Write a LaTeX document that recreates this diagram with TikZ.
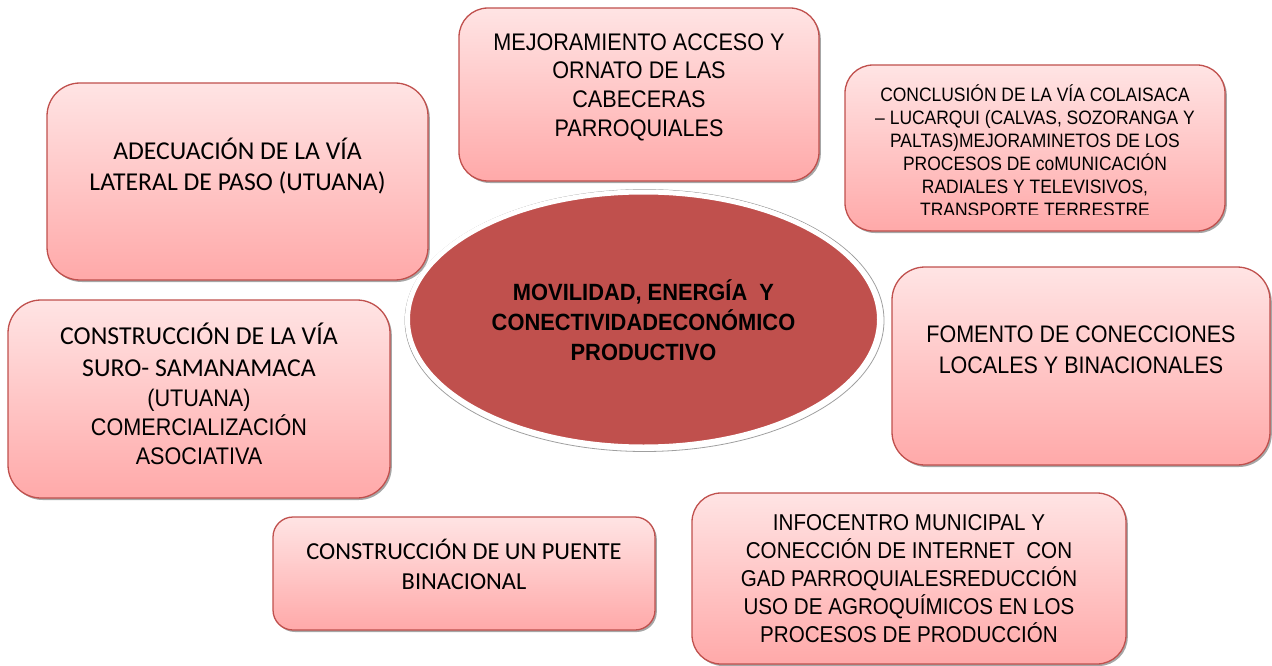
\documentclass[tikz,border=0pt]{standalone}
\usepackage{fontspec}
\setmainfont{Liberation Sans}
\newfontfamily\nar[FakeStretch=0.9]{Liberation Sans}
\newfontfamily\narb[FakeStretch=0.93]{Liberation Sans Bold}
\newfontfamily\calfont{Carlito}
\usetikzlibrary{shapes.geometric,shadows}
\definecolor{boxred}{HTML}{C0504D}
\definecolor{ptop}{HTML}{FFE4E4}
\definecolor{pbot}{HTML}{FFA9A9}
\definecolor{cred}{HTML}{C0504D}
\newcommand{\fr}{\rule{0pt}{30pt}}
\tikzset{
  pinkbox/.style={draw=boxred, line width=1.3pt, top color=ptop, bottom color=pbot,
    inner sep=0pt, drop shadow={shadow xshift=1.8pt, shadow yshift=-2pt, fill=gray!70, opacity=1}},
  txt/.style={anchor=north, inner sep=0pt, align=center, text=black}
}
\begin{document}
\begin{tikzpicture}[x=1pt,y=-1pt]
\useasboundingbox (0,0) rectangle (1272,666);
% boxes
\node[pinkbox, minimum width=360pt, minimum height=173pt, rounded corners=29pt] (b1) at (639,94.5) {};
\node[pinkbox, minimum width=381pt, minimum height=197pt, rounded corners=33pt] (b2) at (237.5,181.5) {};
\node[pinkbox, minimum width=380pt, minimum height=166pt, rounded corners=28pt] (b3) at (1035,148) {};
\node[pinkbox, minimum width=378pt, minimum height=198pt, rounded corners=33pt] (b5) at (1081,366) {};
\node[pinkbox, minimum width=382pt, minimum height=198pt, rounded corners=33pt] (b6) at (199,399) {};
\node[pinkbox, minimum width=382pt, minimum height=113pt, rounded corners=20pt] (b7) at (464,573.5) {};
\node[pinkbox, minimum width=434pt, minimum height=171pt, rounded corners=29pt] (b8) at (909,578.5) {};
% central ellipse
\node[ellipse, draw=gray!75, line width=0.8pt, minimum width=479pt, minimum height=262pt, inner sep=0pt] (esh) at (644.5,320.5) {};
\node[ellipse, fill=cred, draw=white, line width=5pt, minimum width=472pt, minimum height=255pt, inner sep=0pt] (ell) at (643.5,319.5) {};
% texts
\node[txt, font={\nar\fontsize{24}{28.7}\selectfont}] (t1) at (639,20)
  {\fr MEJORAMIENTO ACCESO Y\\ORNATO DE LAS\\CABECERAS\\PARROQUIALES};
\node[txt, font={\calfont\fontsize{25.7}{31.5}\selectfont}] (t2) at (237.5,129)
  {\fr ADECUACIÓN DE LA VÍA\\LATERAL DE PASO (UTUANA)};
\begin{scope}
\clip (845,60) rectangle (1225,214.5);
\node[txt, font={\nar\fontsize{19.4}{23.1}\selectfont}] (t3) at (1035,71)
  {\fr CONCLUSIÓN DE LA VÍA COLAISACA\\– LUCARQUI (CALVAS, SOZORANGA Y\\PALTAS)MEJORAMINETOS DE LOS\\PROCESOS DE coMUNICACIÓN\\RADIALES Y TELEVISIVOS,\\TRANSPORTE TERRESTRE};
\end{scope}
\node[txt, font={\narb\fontsize{23.5}{30}\selectfont}] (te) at (643.5,270)
  {\fr MOVILIDAD, ENERGÍA~ Y\\CONECTIVIDADECONÓMICO\\PRODUCTIVO};
\node[txt, font={\nar\fontsize{23.9}{31.5}\selectfont}] (t5) at (1081,312)
  {\fr FOMENTO DE CONECCIONES\\LOCALES Y BINACIONALES};
\node[txt, font={\calfont\fontsize{25.8}{32}\selectfont}] (t6a) at (199,314)
  {\fr CONSTRUCCIÓN DE LA VÍA\\SURO- SAMANAMACA};
\node[txt, font={\nar\fontsize{24}{29}\selectfont}] (t6b) at (199,376)
  {\fr (UTUANA)\\COMERCIALIZACIÓN\\ASOCIATIVA};
\node[txt, font={\calfont\fontsize{24.4}{30}\selectfont}] (t7) at (464,529)
  {\fr CONSTRUCCIÓN DE UN PUENTE\\BINACIONAL};
\node[txt, font={\nar\fontsize{22.9}{28}\selectfont}] (t8) at (909,500)
  {\fr INFOCENTRO MUNICIPAL Y\\CONECCIÓN DE INTERNET~ CON\\GAD PARROQUIALESREDUCCIÓN\\USO DE AGROQUÍMICOS EN LOS\\PROCESOS DE PRODUCCIÓN};
\end{tikzpicture}
\end{document}
